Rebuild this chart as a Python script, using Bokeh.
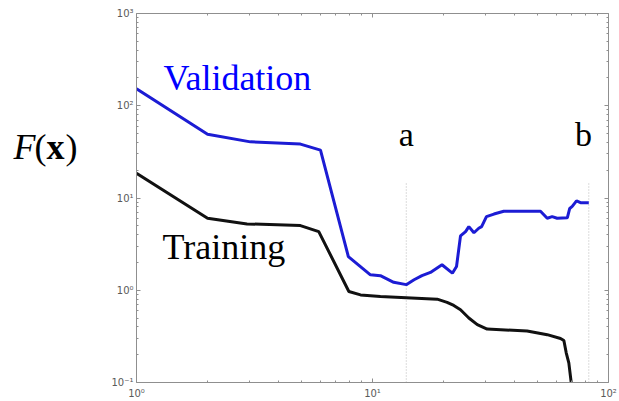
from bokeh.plotting import figure
from bokeh.models import LogAxis, FixedTicker, Label
from bokeh.embed import file_html
from bokeh.resources import INLINE

# ---- data ----
validation_x = [1.0, 2.0, 3.04, 4.95, 6.02, 7.9, 9.8, 10.8, 12.3, 13.9, 15.0, 16.2,
                17.6, 19.7, 21.8, 22.7, 23.6, 24.8, 25.6, 26.9, 28.2, 29.0, 30.4,
                32.7, 36.0, 51.5, 55.0, 57.7, 60.6, 66.9, 68.5, 70.2, 73.2, 76.1, 82.5]
validation_y = [153, 49, 40.6, 38.4, 33, 2.32, 1.47, 1.44, 1.22, 1.15, 1.30, 1.44,
                1.56, 1.89, 1.53, 1.81, 3.88, 4.32, 4.9, 4.2, 4.7, 4.9, 6.28,
                6.7, 7.18, 7.18, 6.03, 6.28, 6.03, 6.1, 7.7, 8.1, 9.29, 8.9, 8.9]

training_x = [1.0, 2.0, 2.94, 4.95, 5.92, 7.94, 8.9, 10.8, 18.8, 20.7, 22.1, 23.6,
              25.6, 27.8, 30.6, 45.2, 55.0, 62.6, 64.7, 66.2, 67.9, 69.5]
training_y = [18.5, 6.03, 5.24, 5.02, 4.32, 0.97, 0.89, 0.857, 0.80, 0.74, 0.684, 0.615,
              0.50, 0.424, 0.38, 0.362, 0.33, 0.30, 0.285, 0.21, 0.163, 0.1]

marker_x = [13.9, 82.5]
marker_bottom = [0.1, 0.1]
marker_top = [15, 15]
marker_labels = ["a", "b"]

x_major = [1, 10, 100]
y_major = [0.1, 1, 10, 100, 1000]
x_tick_labels = {1: "10⁰", 10: "10¹", 100: "10²"}
y_tick_labels = {0.1: "10⁻¹", 1: "10⁰", 10: "10¹", 100: "10²", 1000: "10³"}

x_minor = [m * d for d in [1, 10] for m in range(2, 10)]
y_minor = [m * d for d in [0.1, 1, 10, 100] for m in range(2, 10)]

p = figure(width=619, height=401, x_axis_type="log", y_axis_type="log",
           x_range=(1, 100), y_range=(0.1, 1000),
           output_backend="svg", toolbar_location=None,
           min_border_left=136, min_border_right=11, min_border_top=13,
           min_border_bottom=18)
p.grid.visible = False
p.outline_line_color = None
p.background_fill_color = "white"

AX = "#8f8f8f"


def style_axis(ax, ticks, minor, labels):
    ax.ticker = FixedTicker(ticks=ticks, minor_ticks=minor)
    ax.axis_line_color = AX
    ax.axis_line_width = 1
    ax.major_tick_in = 4
    ax.major_tick_out = 0
    ax.minor_tick_in = 2
    ax.minor_tick_out = 0
    ax.major_tick_line_color = AX
    ax.minor_tick_line_color = AX
    if labels is None:
        ax.major_label_text_font_size = "0px"
        ax.major_label_standoff = 0
        ax.major_label_overrides = {t: "" for t in ticks}
    else:
        ax.major_label_overrides = labels
        ax.major_label_text_font = "DejaVu Sans"
        ax.major_label_text_font_size = "10px"
        ax.major_label_text_color = "#5a5a5a"
        ax.major_label_standoff = 3


style_axis(p.xaxis[0], x_major, x_minor, x_tick_labels)
p.xaxis[0].major_label_standoff = 5
style_axis(p.yaxis[0], y_major, y_minor, y_tick_labels)

top = LogAxis()
right = LogAxis()
style_axis(top, x_major, x_minor, None)
style_axis(right, y_major, y_minor, None)
p.add_layout(top, "above")
p.add_layout(right, "right")

# vertical markers a / b
p.segment(x0=marker_x, y0=marker_bottom, x1=marker_x, y1=marker_top,
          line_color="#b8b8b8", line_width=1, line_dash="1 2")

p.line(validation_x, validation_y, line_color="#1c1cd4", line_width=3)
p.line(training_x, training_y, line_color="#111111", line_width=3)

serif = "Liberation Serif"

p.add_layout(Label(x=1.30, y=200, text="Validation", text_font=serif,
                   text_font_size="36px", text_color="#0000ff",
                   text_baseline="alphabetic"))
p.add_layout(Label(x=1.29, y=2.92, text="Training", text_font=serif,
                   text_font_size="36px", text_color="black",
                   text_baseline="alphabetic"))
for mx, ml in zip([13.9, 78.3], marker_labels):
    p.add_layout(Label(x=mx, y=49, text=ml, text_font=serif,
                       text_font_size="34px", text_color="black",
                       text_align="center", text_baseline="alphabetic"))

# F(x) axis title, placed in the left border panel (canvas coordinates)
fx_parts = [("F", "italic", 13), ("(", "normal", 34), ("x", "bold", 46), (")", "normal", 65)]
for t, st, sx in fx_parts:
    p.add_layout(Label(x=sx, y=146, x_units="canvas", y_units="canvas",
                       text=t, text_font=serif,
                       text_font_size="36px", text_font_style=st,
                       text_color="black", text_baseline="alphabetic"), "left")

open("out.html", "w").write(file_html(p, INLINE))
